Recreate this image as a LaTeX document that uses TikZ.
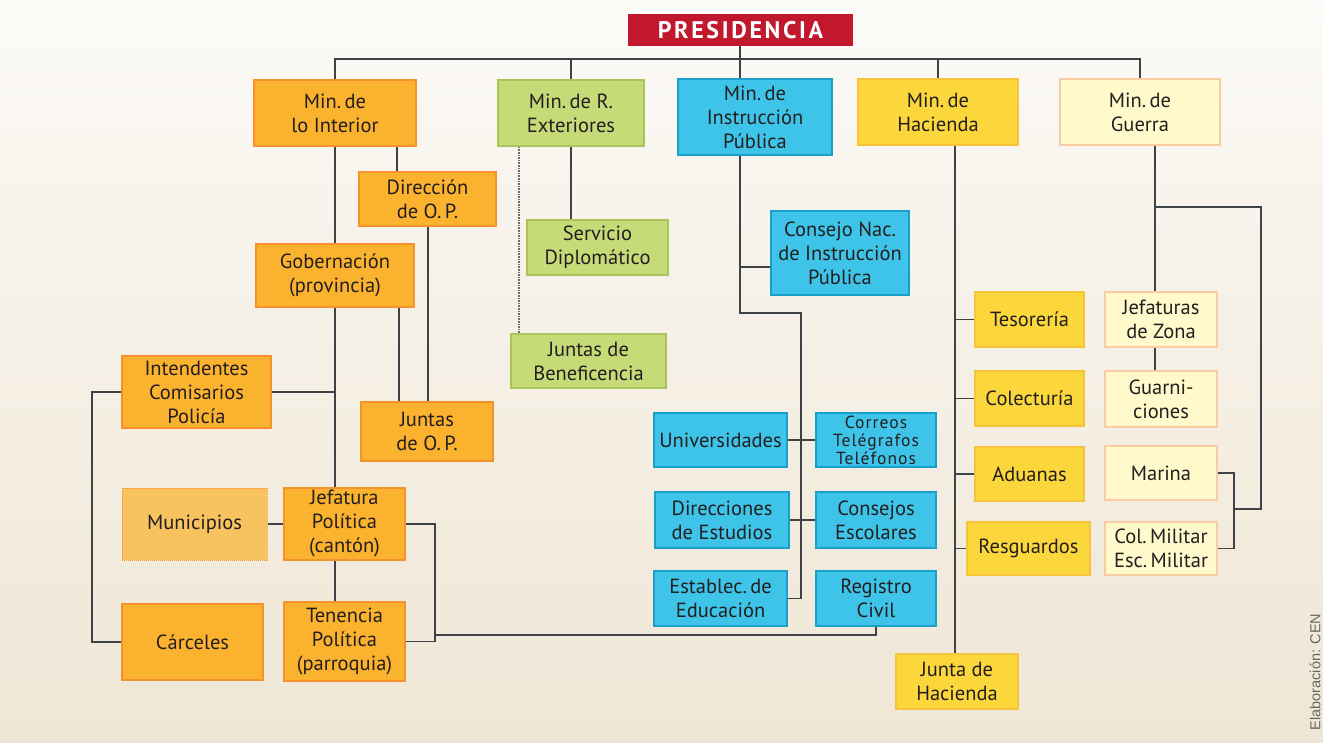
\documentclass[tikz,border=0pt]{standalone}
\usepackage{fontspec}
\setmainfont{PT Sans}
\newfontfamily\presfont[LetterSpace=11]{PT Sans}
\newfontfamily\widefont[LetterSpace=6]{PT Sans}
\newfontfamily\creditfont{Liberation Sans}
\definecolor{orF}{HTML}{FBB22E}
\definecolor{orD}{HTML}{F5922E}
\definecolor{muF}{HTML}{F8C35F}
\definecolor{grF}{HTML}{C6DA78}
\definecolor{grD}{HTML}{A9C45B}
\definecolor{blF}{HTML}{3EC4E8}
\definecolor{blD}{HTML}{1A9FCB}
\definecolor{yeF}{HTML}{FBD73C}
\definecolor{yeD}{HTML}{F5C43A}
\definecolor{paF}{HTML}{FFF9CC}
\definecolor{paD}{HTML}{F9CCA2}
\definecolor{redF}{HTML}{C1182E}
\definecolor{lineC}{HTML}{3D4347}
\definecolor{txt}{HTML}{231F20}
\definecolor{bgA}{RGB}{236,224,202}
\definecolor{bgB}{RGB}{240,232,216}
\definecolor{bgC}{RGB}{248,244,237}
\pgfdeclareverticalshading{bgsh}{100bp}{color(0bp)=(bgA); color(30bp)=(bgB); color(62bp)=(bgC); color(82bp)=(white); color(100bp)=(white)}
\pgfdeclarelayer{back}
\pgfdeclarelayer{lines}
\pgfsetlayers{back,lines,main}
\begin{document}
\begin{tikzpicture}[x=1pt,y=-1pt,
  box/.style={draw, line width=1.8pt, inner sep=0pt, align=center, text=txt,
    font=\fontsize{20.5}{24}\selectfont},
  wh/.style 2 args={minimum width=#1pt, minimum height=#2pt},
  ob/.style={box, fill=orF, draw=orD},
  gb/.style={box, fill=grF, draw=grD},
  bb/.style={box, fill=blF, draw=blD},
  yb/.style={box, fill=yeF, draw=yeD},
  pb/.style={box, fill=paF, draw=paD},
  mb/.style={box, fill=muF, draw=orD, line width=1pt, densely dotted},
  con/.style={draw=lineC, line width=1.5pt},
  dotline/.style={draw=gray!85!black, line width=1.6pt, densely dotted}]

\begin{pgfonlayer}{back}
  \path[shading=bgsh] (0,0) rectangle (1323,743);
\end{pgfonlayer}
\useasboundingbox (0,0) rectangle (1323,743);

% nodes
\node[box, fill=redF, draw=redF, wh={223}{30}, text=white,
  font=\presfont\bfseries\fontsize{24}{24}\selectfont] (pres) at (740.5,30) {PRESIDENCIA};

\node[ob, wh={162}{66}] (interior) at (335,113) {Min.\,de\\lo Interior};
\node[gb, wh={146}{66}] (exter) at (571,113) {Min.\,de R.\\Exteriores};
\node[bb, wh={154}{76}] (instr) at (755,117) {Min.\,de\\Instrucción\\Pública};
\node[yb, wh={160}{66}] (hacienda) at (938,112) {Min.\,de\\Hacienda};
\node[pb, wh={160}{66}] (guerra) at (1140,112) {Min.\,de\\Guerra};

\node[ob, wh={137}{54}] (direccion) at (427.5,199) {Dirección\\de O.\,P.};
\node[ob, wh={158}{63}] (gobern) at (335,275.5) {Gobernación\\(provincia)};
\node[ob, wh={149}{72}] (intend) at (196.5,392) {Intendentes\\Comisarios\\Policía};
\node[ob, wh={132}{59}] (juntasop) at (427,431.5) {Juntas\\de O.\,P.};
\node[mb, wh={145}{72}] (munic) at (194.5,524) {Municipios};
\node[ob, wh={121}{72}] (jefat) at (344.5,524) {Jefatura\\Política\\(cantón)};
\node[ob, wh={141}{76}] (carceles) at (192.5,642) {Cárceles};
\node[ob, wh={121}{79}] (tenencia) at (344.5,641.5) {Tenencia\\Política\\(parroquia)};

\node[gb, wh={141}{55}] (servicio) at (597.5,247.5) {Servicio\\Diplomático};
\node[gb, wh={155}{54}] (benef) at (588.5,361) {Juntas de\\Beneficencia};

\node[bb, wh={138}{84}] (consejonac) at (840,253) {Consejo Nac.\\de Instrucción\\Pública};
\node[bb, wh={133}{54}] (univ) at (720.5,440) {Universidades};
\node[bb, wh={120}{54}, font=\widefont\fontsize{17.5}{18}\selectfont] (correos) at (876,440) {Correos\\Telégrafos\\Teléfonos};
\node[bb, wh={134}{56}] (direcc) at (722,520) {Direcciones\\de Estudios};
\node[bb, wh={120}{56}] (consejos) at (876,520) {Consejos\\Escolares};
\node[bb, wh={133}{55}] (establec) at (720.5,598.5) {Establec.\,de\\Educación};
\node[bb, wh={120}{55}] (registro) at (876,598.5) {Registro\\Civil};

\node[yb, wh={109}{55}] (tesor) at (1029.5,319.5) {Tesorería};
\node[yb, wh={109}{55}] (colect) at (1029.5,398.5) {Colecturía};
\node[yb, wh={109}{54}] (aduanas) at (1029.5,474) {Aduanas};
\node[yb, wh={123}{53}] (resguard) at (1028.5,548.5) {Resguardos};
\node[yb, wh={122}{55}] (juntahac) at (957,681.5) {Junta de\\Hacienda};

\node[pb, wh={112}{55}] (jefzona) at (1161,319.5) {Jefaturas\\de Zona};
\node[pb, wh={112}{56}] (guarn) at (1161,399) {Guarni-\\ciones};
\node[pb, wh={112}{54}] (marina) at (1161,473) {Marina};
\node[pb, wh={112}{53}] (colmil) at (1161,548.5) {Col.\,Militar\\Esc.\,Militar};

\node[rotate=90, text=gray!80!black, inner sep=0pt,
  font=\creditfont\fontsize{14.5}{14.5}\selectfont] (credit) at (1315,672) {Elaboración: CEN};

% junction coordinates
\coordinate (bus) at (0,59);
\coordinate (xd) at (397,0);
\coordinate (xg) at (399,0);
\coordinate (xj) at (428,0);
\coordinate (xl) at (92,0);
\coordinate (xr) at (435,0);
\coordinate (yreg) at (0,635);
\coordinate (xp) at (740,0);
\coordinate (xi) at (801,0);
\coordinate (yi) at (0,313);
\coordinate (yc) at (0,267);
\coordinate (xdot) at (519,0);
\coordinate (xh) at (955,0);
\coordinate (xw) at (1155,0);
\coordinate (xw2) at (1261,0);
\coordinate (yw) at (0,207);
\coordinate (xm) at (1234,0);
\coordinate (ym) at (0,509);

\begin{pgfonlayer}{lines}
\draw[con] (interior.north) -- (interior.north |- bus) -- (guerra.north |- bus) -- (guerra.north);
\draw[con] (xp |- pres.south) -- (xp |- instr.north);
\draw[con] (exter.north) -- (exter.north |- bus);
\draw[con] (hacienda.north) -- (hacienda.north |- bus);
% interior branch
\draw[con] (interior.south) -- (interior.south |- tenencia.north);
\draw[con] (xd |- interior.south) -- (xd |- direccion.north);
\draw[con] (xj |- direccion.south) -- (xj |- juntasop.north);
\draw[con] (xg |- gobern.south) -- (xg |- juntasop.north);
\draw[con] (intend.east) -- (intend.east -| interior.south);
\draw[con] (intend.west) -- (intend.west -| xl) -- (xl |- carceles.west) -- (carceles.west);
\draw[con] (munic.east) -- (jefat.west);
\draw[con] (jefat.east) -- (jefat.east -| xr) -- (xr |- tenencia.east) -- (tenencia.east);
\draw[con] (registro.south) -- (registro.south |- yreg) -- (xr |- yreg);
% exteriores
\draw[con] (exter.south) -- (exter.south |- servicio.north);
\draw[dotline] (xdot |- exter.south) -- (xdot |- benef.north);
% instruccion
\draw[con] (xp |- instr.south) -- (xp |- yi) -- (xi |- yi) -- (xi |- establec.east) -- (establec.east);
\draw[con] (xp |- yc) -- (consejonac.west |- yc);
\draw[con] (univ.east) -- (correos.west);
\draw[con] (direcc.east) -- (consejos.west);
% hacienda
\draw[con] (xh |- hacienda.south) -- (xh |- juntahac.north);
\draw[con] (tesor.west) -- (tesor.west -| xh);
\draw[con] (colect.west) -- (colect.west -| xh);
\draw[con] (aduanas.west) -- (aduanas.west -| xh);
\draw[con] (resguard.west) -- (resguard.west -| xh);
% guerra
\draw[con] (xw |- guerra.south) -- (xw |- jefzona.north);
\draw[con] (xw |- jefzona.south) -- (xw |- guarn.north);
\draw[con] (xw |- yw) -- (xw2 |- yw) -- (xw2 |- ym) -- (xm |- ym);
\draw[con] (marina.east) -- (marina.east -| xm) -- (xm |- colmil.east) -- (colmil.east);
\end{pgfonlayer}
\end{tikzpicture}
\end{document}
